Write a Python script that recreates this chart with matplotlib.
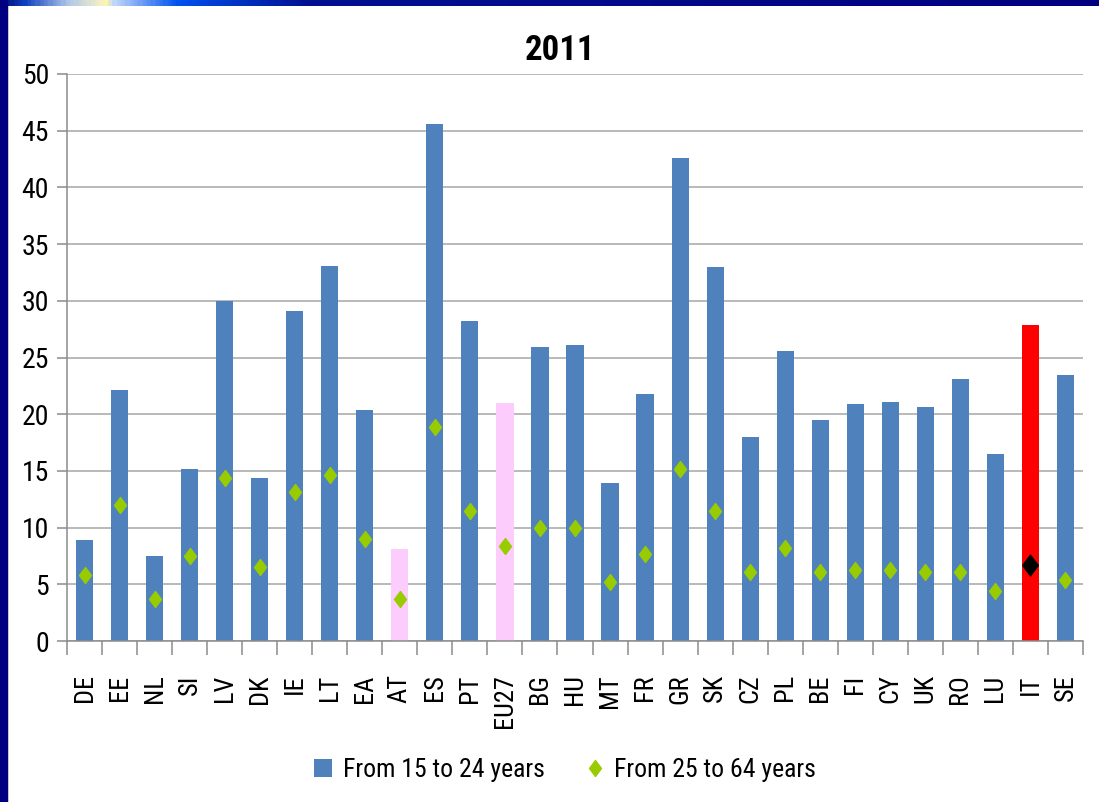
import matplotlib
matplotlib.use('Agg')
import matplotlib.pyplot as plt
import numpy as np
from matplotlib import font_manager
from matplotlib.path import Path
from matplotlib.patches import Patch, Rectangle
from matplotlib.lines import Line2D
from matplotlib.colors import LinearSegmentedColormap

# ---------------- data ----------------
countries = ['DE', 'EE', 'NL', 'SI', 'LV', 'DK', 'IE', 'LT', 'EA', 'AT', 'ES', 'PT', 'EU27',
             'BG', 'HU', 'MT', 'FR', 'GR', 'SK', 'CZ', 'PL', 'BE', 'FI', 'CY', 'UK', 'RO',
             'LU', 'IT', 'SE']
youth_15_24 = [8.9, 22.1, 7.5, 15.2, 30.0, 14.4, 29.1, 33.1, 20.4, 8.1, 45.6, 28.2, 21.0,
               25.9, 26.1, 13.9, 21.8, 42.6, 33.0, 18.0, 25.6, 19.5, 20.9, 21.1, 20.6, 23.1,
               16.5, 27.9, 23.5]
adults_25_64 = [5.8, 12.0, 3.7, 7.5, 14.4, 6.5, 13.1, 14.6, 9.0, 3.7, 18.9, 11.5, 8.4,
                10.0, 10.0, 5.2, 7.7, 15.2, 11.5, 6.1, 8.2, 6.1, 6.3, 6.3, 6.1, 6.1,
                4.4, 6.7, 5.4]
title = '2011'
series_names = ['From 15 to 24 years', 'From 25 to 64 years']
pink_set = ['AT', 'EU27']
red_set = ['IT']

# ---------------- fonts ----------------
avail = {f.name for f in font_manager.fontManager.ttflist}
fam = 'Lato'
for cand in ['Liberation Sans Narrow', 'Roboto Condensed', 'Open Sans Condensed', 'Lato']:
    if cand in avail:
        fam = cand
        break
plt.rcParams['font.family'] = [fam, 'DejaVu Sans']

BLUE = '#4F81BD'
PINK = '#FCCCFC'
RED = '#FF0000'
GREEN = '#99CC00'
GRID = '#A6A6A6'

W, H = 1099, 802
fig = plt.figure(figsize=(W / 100, H / 100), dpi=100)
fig.patch.set_facecolor('white')

# slide frame: left navy strip and top gradient strip
fig.patches.append(Rectangle((0, 0), 8 / W, 1, transform=fig.transFigure,
                             facecolor='#000080', edgecolor='none', zorder=0))
fig.patches.append(Rectangle((8 / W, 0), 1.2 / W, 1 - 6 / H, transform=fig.transFigure,
                             facecolor='#C8C8C8', edgecolor='none', zorder=0))
gax = fig.add_axes([0, 1 - 6 / H, 1, 6 / H])
cmap = LinearSegmentedColormap.from_list('frame', [
    (0.0, '#00107A'), (0.02, '#1040C0'), (0.06, '#B0C8E8'), (0.09, '#F4F0C8'),
    (0.095, '#FFF8A0'), (0.10, '#C8DCF8'), (0.16, '#0050F0'), (0.28, '#001090'),
    (1.0, '#000080')])
gax.imshow(np.linspace(0, 1, 600)[None, :], aspect='auto', cmap=cmap, extent=[0, 1, 0, 1])
gax.set_axis_off()

# ---------------- chart ----------------
ax = fig.add_axes([67 / W, (H - 641) / H, (1083 - 67) / W, (641 - 74) / H])
x = np.arange(len(countries))
bar_colors = [RED if c in red_set else PINK if c in pink_set else BLUE for c in countries]
ax.bar(x, youth_15_24, width=0.49, color=bar_colors, zorder=2)

diamond = Path([(0, 1), (0.75, 0), (0, -1), (-0.75, 0), (0, 1)],
               [Path.MOVETO, Path.LINETO, Path.LINETO, Path.LINETO, Path.CLOSEPOLY])
for xi, v, c in zip(x, adults_25_64, countries):
    if c in red_set:
        ax.plot(xi, v, linestyle='none', marker=diamond, markersize=15,
                color='black', zorder=3)
    else:
        ax.plot(xi, v, linestyle='none', marker=diamond, markersize=11.5,
                color=GREEN, zorder=3)

ax.set_xlim(-0.5, len(countries) - 0.5)
ax.set_ylim(0, 50)
ax.set_yticks(np.arange(0, 51, 5))
ax.yaxis.grid(True, color=GRID, linewidth=1.1, zorder=0)
ax.set_axisbelow(True)
for s in ['top', 'right']:
    ax.spines[s].set_visible(False)
for s in ['left', 'bottom']:
    ax.spines[s].set_color('#8C8C8C')
    ax.spines[s].set_linewidth(1.1)

ax.set_xticks(x)
ax.set_xticklabels(countries, rotation=90, fontsize=19)
ax.set_xticks(np.arange(-0.5, len(countries), 1.0), minor=True)
ax.tick_params(axis='x', which='major', length=0, pad=24)
ax.tick_params(axis='x', which='minor', length=10, width=1.1, color='#8C8C8C')
ax.tick_params(axis='y', which='major', length=7, width=1.1, color='#8C8C8C',
               labelsize=20, pad=6)

fig.text(560 / W, 1 - 51 / H, title, ha='center', va='center', fontsize=25,
         fontweight='bold', color='black')

handles = [Patch(facecolor=BLUE, edgecolor='none'),
           Line2D([], [], linestyle='none', marker=diamond, markersize=11.5, color=GREEN)]
fig.legend(handles, series_names, loc='center', bbox_to_anchor=(565 / W, 1 - 770 / H),
           ncol=2, frameon=False, fontsize=18.5, handlelength=0.7, handleheight=0.7,
           handletextpad=0.4, columnspacing=1.6)

fig.savefig('out.png', dpi=100, facecolor='white')
